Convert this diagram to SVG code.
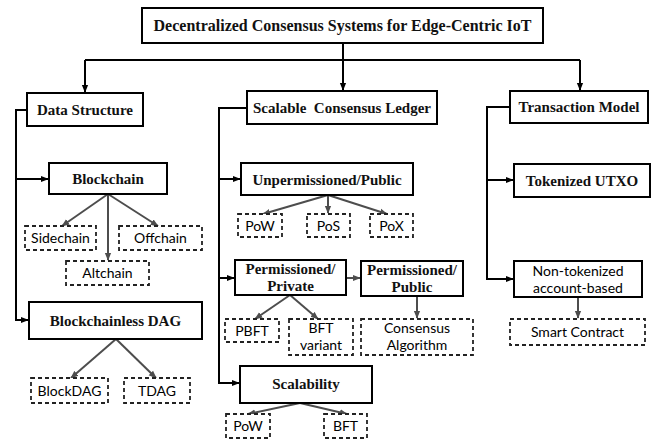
<svg xmlns="http://www.w3.org/2000/svg" width="657" height="441" viewBox="0 0 657 441">
<defs>
<marker id="ab" viewBox="0 0 10 10" refX="9" refY="5" markerWidth="4" markerHeight="4" orient="auto" markerUnits="strokeWidth"><path d="M0,1 L10,5 L0,9 z" fill="#000"/></marker>
<marker id="ag" viewBox="0 0 10 10" refX="9" refY="5" markerWidth="4" markerHeight="4" orient="auto" markerUnits="strokeWidth"><path d="M0,1 L10,5 L0,9 z" fill="#4d4d4d"/></marker>
</defs>
<style>
.box{fill:#fff;stroke:#000;stroke-width:2}
.dbox{fill:#fff;stroke:#222;stroke-width:1.8;stroke-dasharray:4 3}
.t{font-family:'Liberation Serif','Times New Roman','DejaVu Serif',serif;font-weight:700;font-size:15px;fill:#111;text-anchor:middle}
.s{font-family:Lato,'Liberation Sans',sans-serif;font-size:14px;fill:#000;text-anchor:middle}
.k{fill:none;stroke:#000;stroke-width:2}
.g{fill:none;stroke:#4d4d4d;stroke-width:2}
</style>
<rect width="657" height="441" fill="#fff"/>
<g id="connectors">
<path class="k" d="M343,43 V60"/>
<path class="k" d="M85,60 H580"/>
<path class="k" d="M85,60 V92" marker-end="url(#ab)"/>
<path class="k" d="M343,60 V90" marker-end="url(#ab)"/>
<path class="k" d="M580,60 V90" marker-end="url(#ab)"/>
<path class="k" d="M27,110 H16 V320 H28" marker-end="url(#ab)"/>
<path class="k" d="M16,179 H48" marker-end="url(#ab)"/>
<path class="k" d="M247,108 H219 V383 H239" marker-end="url(#ab)"/>
<path class="k" d="M219,179 H240" marker-end="url(#ab)"/>
<path class="k" d="M219,278 H234" marker-end="url(#ab)"/>
<path class="k" d="M510,107 H487 V279 H513" marker-end="url(#ab)"/>
<path class="k" d="M487,180 H513" marker-end="url(#ab)"/>
<path class="g" d="M108,194 L62,226" marker-end="url(#ag)"/>
<path class="g" d="M108,194 V260" marker-end="url(#ag)"/>
<path class="g" d="M108,194 L158,226" marker-end="url(#ag)"/>
<path class="g" d="M116,339 L71,378" marker-end="url(#ag)"/>
<path class="g" d="M116,339 L156,378" marker-end="url(#ag)"/>
<path class="g" d="M328,195 L263,214" marker-end="url(#ag)"/>
<path class="g" d="M328,195 V213" marker-end="url(#ag)"/>
<path class="g" d="M328,195 L387,214" marker-end="url(#ag)"/>
<path class="g" d="M290,295 L255,319" marker-end="url(#ag)"/>
<path class="g" d="M290,295 L318,319" marker-end="url(#ag)"/>
<path class="g" d="M346,278 H360" marker-end="url(#ag)"/>
<path class="g" d="M417,296 V318" marker-end="url(#ag)"/>
<path class="g" d="M300,403 L248,414" marker-end="url(#ag)"/>
<path class="g" d="M300,403 L347,414" marker-end="url(#ag)"/>
<path class="g" d="M578,297 V318" marker-end="url(#ag)"/>
</g>
<g id="title"><rect class="box" x="142" y="8" width="401" height="35"/><text class="t" x="342.5" y="31" font-family="Liberation Serif" style="font-size:16px">Decentralized Consensus Systems for Edge-Centric IoT</text></g>
<g id="data-structure"><rect class="box" x="27" y="93" width="116" height="33"/><text class="t" x="85" y="115">Data Structure</text></g>
<g id="blockchain"><rect class="box" x="49" y="163" width="118" height="31"/><text class="t" x="108" y="184">Blockchain</text></g>
<g id="sidechain"><rect class="dbox" x="25" y="226" width="71" height="24"/><text class="s" x="60.5" y="243">Sidechain</text></g>
<g id="offchain"><rect class="dbox" x="119" y="226" width="83" height="24"/><text class="s" x="160.5" y="243">Offchain</text></g>
<g id="altchain"><rect class="dbox" x="66" y="261" width="83" height="24"/><text class="s" x="107.5" y="278">Altchain</text></g>
<g id="blockchainless-dag"><rect class="box" x="29" y="302" width="173" height="37"/><text class="t" x="115.5" y="326">Blockchainless DAG</text></g>
<g id="blockdag"><rect class="dbox" x="31" y="378" width="77" height="25"/><text class="s" x="69.5" y="396">BlockDAG</text></g>
<g id="tdag"><rect class="dbox" x="124" y="378" width="66" height="25"/><text class="s" x="157" y="396">TDAG</text></g>
<g id="scalable-ledger"><rect class="box" x="247" y="91" width="190" height="33"/><text class="t" x="342" y="113" xml:space="preserve">Scalable  Consensus Ledger</text></g>
<g id="unpermissioned"><rect class="box" x="241" y="163" width="172" height="32"/><text class="t" x="327" y="185">Unpermissioned/Public</text></g>
<g id="pow1"><rect class="dbox" x="238" y="214" width="44" height="23"/><text class="s" x="260" y="231">PoW</text></g>
<g id="pos"><rect class="dbox" x="307" y="214" width="43" height="23"/><text class="s" x="328.5" y="231">PoS</text></g>
<g id="pox"><rect class="dbox" x="370" y="214" width="43" height="23"/><text class="s" x="391.5" y="231">PoX</text></g>
<g id="permissioned-private"><rect class="box" x="235" y="260" width="111" height="35"/><text class="t" x="290.5" y="274">Permissioned/</text><text class="t" x="290.5" y="291">Private</text></g>
<g id="permissioned-public"><rect class="box" x="361" y="261" width="102" height="35"/><text class="t" x="412" y="275">Permissioned/</text><text class="t" x="412" y="292">Public</text></g>
<g id="pbft"><rect class="dbox" x="225" y="319" width="54" height="23"/><text class="s" x="252" y="336">PBFT</text></g>
<g id="bft-variant"><rect class="dbox" x="289" y="319" width="64" height="36"/><text class="s" x="321" y="333">BFT</text><text class="s" x="321" y="350">variant</text></g>
<g id="consensus-algorithm"><rect class="dbox" x="361" y="319" width="112" height="36"/><text class="s" x="417" y="333">Consensus</text><text class="s" x="417" y="350">Algorithm</text></g>
<g id="scalability"><rect class="box" x="240" y="366" width="132" height="37"/><text class="t" x="306" y="389">Scalability</text></g>
<g id="pow2"><rect class="dbox" x="226" y="414" width="44" height="24"/><text class="s" x="248" y="431">PoW</text></g>
<g id="bft"><rect class="dbox" x="324" y="414" width="43" height="24"/><text class="s" x="345.5" y="431">BFT</text></g>
<g id="transaction-model"><rect class="box" x="510" y="91" width="138" height="32"/><text class="t" x="579" y="112">Transaction Model</text></g>
<g id="tokenized-utxo"><rect class="box" x="514" y="164" width="136" height="33"/><text class="t" x="582" y="186">Tokenized UTXO</text></g>
<g id="non-tokenized"><rect class="box" x="514" y="261" width="128" height="36"/><text class="s" x="578" y="276">Non-tokenized</text><text class="s" x="578" y="293">account-based</text></g>
<g id="smart-contract"><rect class="dbox" x="510" y="319" width="135" height="26"/><text class="s" x="577.5" y="337">Smart Contract</text></g>
</svg>
